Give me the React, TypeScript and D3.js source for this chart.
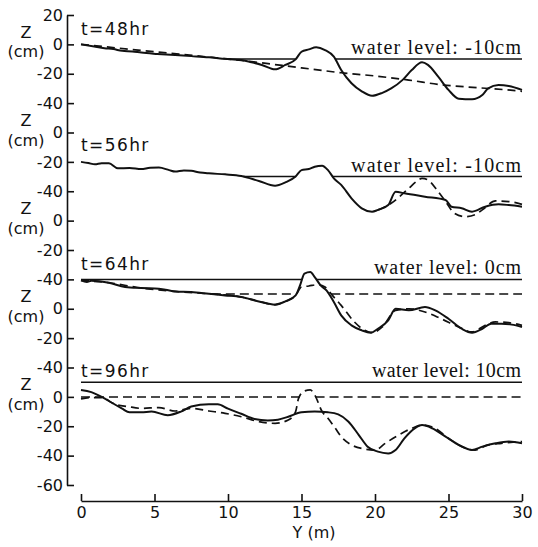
import React, { useEffect, useRef } from "react"
import * as d3 from "d3"

type Pt = [number, number]

// y axis labels as printed, top to bottom (one per tick, 20 cm apart)
const yTickLabels = ["20", "0", "-20", "-40", "0", "-20", "-40", "0", "-20", "-40", "0", "-20", "-40", "0", "-20", "-40", "-60"]
const xTicks = [0, 5, 10, 15, 20, 25, 30]

const panelTimes = ["t=48hr", "t=56hr", "t=64hr", "t=96hr"]
const waterLevels = [-10, -10, 0, 10]
const dashedWaterLevels: (number | null)[] = [null, null, -10, 0]
const waterLabels = ["water level: -10cm", "water level: -10cm", "water level: 0cm", "water level: 10cm"]

// profiles [Y (m), Z (cm)]
const solid48: Pt[] = [[0, 0], [0.9, -1.5], [1.6, -2.6], [2.2, -3.2], [2.8, -4.4], [3.5, -4.8], [4.1, -5.6], [5.2, -6.5], [6.4, -7.3], [7.5, -8.0], [8.7, -8.8], [9.8, -9.8], [10.9, -10.7], [11.6, -12.2], [12.3, -14.0], [13.2, -17.0], [13.9, -14.0], [14.6, -10.2], [15.0, -5.0], [15.5, -3.4], [16.0, -2.0], [16.6, -3.9], [17.2, -8.4], [17.7, -17.5], [18.4, -26.5], [19.1, -32], [19.8, -35], [20.5, -33], [21.1, -30], [21.9, -24], [22.5, -17.5], [23.2, -12.2], [23.6, -14], [24.3, -22], [25.0, -31], [25.7, -37], [26.6, -37.4], [27.3, -34.5], [27.7, -30], [28.4, -27.7], [29.1, -28.3], [30, -31]]
const dashed48: Pt[] = [[0, 0], [5, -5], [10, -10], [11.4, -11.5], [13, -13.5], [15, -16], [17.7, -19.3], [20, -21.5], [22.3, -24.3], [24.5, -27.5], [27, -29.5], [29, -31], [30, -32]]

const solid56: Pt[] = [[0, 0], [0.5, -0.8], [0.95, -1.7], [1.4, -0.9], [1.9, -1.0], [2.5, -4.4], [3.3, -4.2], [4.1, -4.9], [4.7, -4.0], [5.3, -3.9], [6.0, -5.6], [6.4, -6.6], [7.0, -5.8], [7.5, -6.1], [8.1, -7.2], [8.7, -7.8], [9.8, -8.5], [10.9, -9.6], [12.1, -13], [13.2, -16.2], [13.9, -14], [14.6, -10], [15.0, -5.6], [15.5, -4.9], [15.9, -3.3], [16.4, -2.6], [16.8, -5.6], [17.2, -11.2], [17.7, -15.7], [18.4, -24.8], [19.1, -31.6], [19.8, -33.9], [20.2, -32.7], [20.9, -29.4], [21.4, -20.3], [22.0, -21.4], [23.4, -23.7], [24.8, -26], [25.2, -30.5], [25.9, -31.6], [26.6, -33.9], [27.5, -30.5], [28.4, -28.9], [29.1, -29.4], [30, -30.5]]
const dashed56: Pt[] = [[20.2, -32.7], [20.7, -30.5], [21.1, -28.2], [21.8, -22.5], [22.3, -18], [22.8, -13.5], [23.2, -11.2], [23.6, -12.3], [24.3, -20.3], [24.8, -27], [25.4, -35], [26.1, -37.3], [26.8, -36], [27.3, -32.7], [28.2, -26.6], [29.1, -27], [30, -28.9]]

const solid64: Pt[] = [[0, -0.7], [0.4, -1.8], [0.7, -1.0], [1.9, -2.3], [3.0, -5.2], [4.1, -5.9], [5.3, -6.3], [6.4, -8.2], [7.5, -8.6], [8.7, -9.8], [9.8, -10.9], [10.9, -12], [12.1, -15], [13.2, -17.2], [13.9, -15], [14.6, -10.9], [14.9, -4.1], [15.2, 3.9], [15.6, 5], [15.9, 1.6], [16.3, -4.1], [16.7, -7.5], [17.2, -15.4], [17.7, -24.5], [18.4, -31.3], [19.1, -34.7], [19.7, -36.3], [20.2, -33.6], [20.9, -27.9], [21.4, -20], [22.3, -21.1], [23.4, -18.8], [24.1, -21.1], [25.0, -26.8], [25.9, -33.6], [26.6, -36.3], [27.3, -33.6], [27.9, -30.2], [28.6, -30.2], [29.3, -30.8], [30, -32.4]]
const dashed64: Pt[] = [[0, -0.7], [1.9, -2.3], [4.1, -5.9], [6.4, -8.2], [8.7, -9.8], [10.9, -12], [12.1, -15], [13.2, -17.2], [13.9, -15], [14.6, -10.9], [15.0, -5.2], [15.5, -4.5], [16.1, -3.6], [16.6, -5.2], [17.1, -10.9], [17.7, -17.7], [18.6, -29], [19.3, -34.7], [19.8, -36.3], [20.5, -32.4], [21.4, -21.1], [22.3, -20], [23.4, -22.2], [24.5, -26.8], [25.7, -32.4], [26.6, -35.8], [27.5, -31.3], [28.2, -29], [29.1, -29.5], [30, -31.3]]

const solid96: Pt[] = [[0, 4.7], [0.7, 3.2], [1.4, 0], [2.1, -4], [2.8, -8], [3.3, -10.5], [4.1, -10.5], [4.8, -10], [5.9, -12.5], [6.8, -10], [7.5, -6.6], [8.7, -5], [9.3, -5], [10.0, -8], [10.9, -11.5], [11.8, -15], [12.7, -16], [13.4, -15.5], [14.1, -13.5], [15.0, -10.5], [15.9, -10], [16.8, -10.5], [17.5, -11.9], [18.2, -16.9], [18.9, -26], [19.5, -33.9], [20.2, -37.3], [20.9, -38.5], [21.4, -36.2], [22.0, -28.2], [22.7, -21.4], [23.2, -19.2], [23.9, -21.4], [24.8, -27.1], [25.7, -32.7], [26.6, -36.2], [27.3, -33.9], [28.2, -31.6], [29.1, -30.4], [30, -31.6]]
const dashed96: Pt[] = [[0, -1.4], [0.7, -0.5], [1.4, -0.5], [2.3, -5], [3.2, -6.6], [4.1, -7.8], [5.3, -7.3], [6.4, -9.6], [7.5, -7.8], [8.7, -9.6], [9.8, -11.2], [10.9, -13.5], [12.1, -16.9], [13.2, -18], [14.1, -15.7], [14.6, -10], [14.8, -1], [15.2, 4], [15.6, 4.7], [15.9, 1.3], [16.4, -10], [16.8, -14.6], [17.3, -21.4], [17.7, -27.1], [18.4, -32.7], [19.3, -35.5], [20.0, -36.2], [20.7, -31.6], [21.6, -26], [22.5, -21.4], [23.2, -19.2], [24.1, -21.4], [25.0, -28.2], [25.9, -33.9], [26.8, -36.2], [27.7, -32.7], [28.6, -31.6], [30, -30.4]]

const solidProfiles = [solid48, solid56, solid64, solid96]
const dashedProfiles = [dashed48, dashed56, dashed64, dashed96]

// layout
const W = 538
const H = 547
const panelZeroTick = [1, 5, 9, 13]
const timeLabelDy = [9, 11, 9, 20]
const waterLabelWidth = [170, 170, 147, 149]
const sans = "DejaVu Sans, sans-serif"
const serif = "Liberation Serif, Times New Roman, serif"
const ink = "#111"

// Y stretches where the profile lies below the water level
const wetSpans = (profile: Pt[], level: number): Pt[] => {
  const spans: Pt[] = []
  let start: number | null = profile[0][1] <= level ? profile[0][0] : null
  for (let i = 1; i < profile.length; i++) {
    const [xa, za] = profile[i - 1]
    const [xb, zb] = profile[i]
    const cross = za === zb ? xa : xa + ((level - za) * (xb - xa)) / (zb - za)
    if (start === null && zb <= level) start = za <= level ? xa : cross
    else if (start !== null && zb > level) {
      spans.push([start, cross])
      start = null
    }
  }
  if (start !== null) spans.push([start, profile[profile.length - 1][0]])
  return spans
}

const App = () => {
  const ref = useRef<SVGSVGElement>(null)

  useEffect(() => {
    const svg = d3.select(ref.current)
    svg.selectAll("*").remove()

    const x = d3.scaleLinear().domain([0, 30]).range([81, 522])
    const tickY = d3.scaleLinear().domain([0, yTickLabels.length - 1]).range([15, 485])

    // y axis
    const yAxis = d3
      .axisLeft(tickY)
      .tickValues(d3.range(yTickLabels.length))
      .tickFormat((i) => yTickLabels[i as number])
      .tickSizeInner(-7)
      .tickSizeOuter(0)
      .tickPadding(4)
    const gy = svg.append("g").attr("transform", "translate(67,0)").call(yAxis)
    gy.attr("font-family", sans).attr("font-size", 16)
    gy.selectAll("path,line").attr("stroke", ink).attr("stroke-width", 1.6)
    gy.selectAll("text").attr("fill", ink)

    // Z (cm) next to every "0"
    yTickLabels.forEach((lab, i) => {
      if (lab !== "0") return
      svg.append("text").attr("x", 26).attr("y", tickY(i) - 6.5).attr("text-anchor", "middle")
        .attr("font-family", sans).attr("font-size", 16).attr("fill", ink).text("Z")
      svg.append("text").attr("x", 26).attr("y", tickY(i) + 13).attr("text-anchor", "middle")
        .attr("font-family", sans).attr("font-size", 16).attr("fill", ink).text("(cm)")
    })

    // x axis
    const xAxis = d3.axisBottom(x).tickValues(xTicks).tickSizeInner(-7).tickSizeOuter(0).tickPadding(6)
    const gx = svg.append("g").attr("transform", "translate(0,501)").call(xAxis)
    gx.attr("font-family", sans).attr("font-size", 16)
    gx.selectAll("path,line").attr("stroke", ink).attr("stroke-width", 1.6)
    gx.selectAll("text").attr("fill", ink)
    svg.append("text").attr("x", 314).attr("y", 538).attr("text-anchor", "middle")
      .attr("font-family", sans).attr("font-size", 16).attr("fill", ink).text("Y (m)")

    panelTimes.forEach((label, k) => {
      const zt = panelZeroTick[k]
      const z = d3.scaleLinear().domain([0, -20]).range([tickY(zt), tickY(zt + 1)])
      const line = d3.line<Pt>().x((d) => x(d[0])).y((d) => z(d[1])).curve(d3.curveMonotoneX)
      const g = svg.append("g")

      // water levels
      wetSpans(solidProfiles[k], waterLevels[k]).forEach(([a, b]) => {
        g.append("line").attr("x1", x(a)).attr("x2", x(b))
          .attr("y1", z(waterLevels[k])).attr("y2", z(waterLevels[k]))
          .attr("stroke", ink).attr("stroke-width", 1.5)
      })
      const dw = dashedWaterLevels[k]
      if (dw !== null) {
        wetSpans(dashedProfiles[k], dw).forEach(([a, b]) => {
          g.append("line").attr("x1", x(a)).attr("x2", x(b))
            .attr("y1", z(dw)).attr("y2", z(dw))
            .attr("stroke", ink).attr("stroke-width", 1.5).attr("stroke-dasharray", "9,5")
        })
      }

      g.append("path").datum(dashedProfiles[k]).attr("d", line)
        .attr("fill", "none").attr("stroke", ink).attr("stroke-width", 1.7).attr("stroke-dasharray", "8,5")
      g.append("path").datum(solidProfiles[k]).attr("d", line)
        .attr("fill", "none").attr("stroke", ink).attr("stroke-width", 2)

      g.append("text").attr("x", 81).attr("y", z(0) - timeLabelDy[k])
        .attr("font-family", sans).attr("font-size", 17).attr("letter-spacing", 1.4)
        .attr("fill", ink).text(label)

      g.append("text").attr("x", 521).attr("y", z(waterLevels[k]) - 5)
        .attr("text-anchor", "end").attr("font-family", serif).attr("font-size", 20)
        .attr("textLength", waterLabelWidth[k]).attr("fill", ink).text(waterLabels[k])
    })
  })

  return (
    <svg
      ref={ref}
      width={W}
      height={H}
      style={{ position: "absolute", left: 0, top: 0, background: "#fff" }}
    />
  )
}

export default App
